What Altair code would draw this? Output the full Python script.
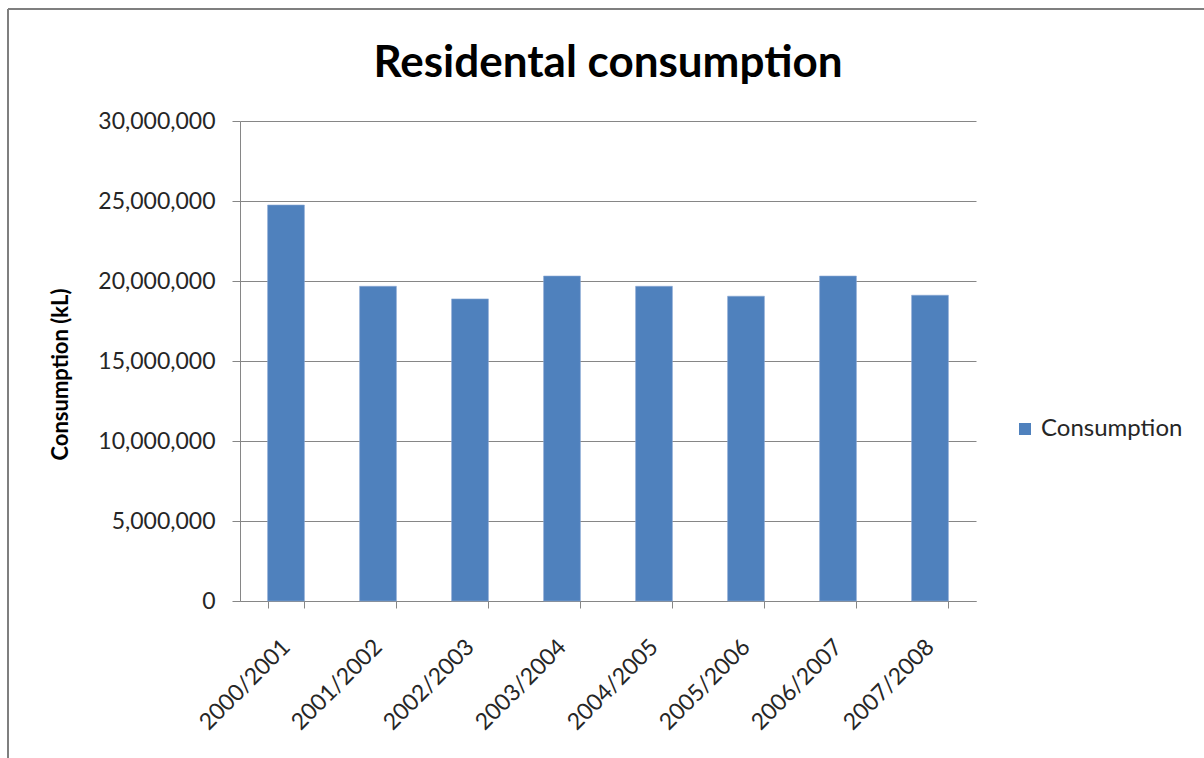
import altair as alt
import pandas as pd

# Residential water consumption per financial year (kL)
years = [
    "2000/2001", "2001/2002", "2002/2003", "2003/2004",
    "2004/2005", "2005/2006", "2006/2007", "2007/2008",
]
consumption = [
    24750000, 19670000, 18880000, 20310000,
    19670000, 19050000, 20310000, 19110000,
]
series = ["Consumption"] * len(years)

df = pd.DataFrame({"Year": years, "Consumption": consumption, "Series": series})

FONT = "Lato"
GRID = "#868686"
TEXT = "#262626"
BLUE = "#4F81BD"

bars = alt.Chart(df).mark_bar(color=BLUE, stroke="#8AA8D4", strokeWidth=0.6).encode(
    x=alt.X(
        "Year:N",
        sort=years,
        title=None,
        scale=alt.Scale(paddingInner=0.6, paddingOuter=0.3),
        axis=alt.Axis(
            labelAngle=-45,
            labelAlign="right",
            labelBaseline="middle",
            labelPadding=35,
            labelFont=FONT,
            labelFontSize=23,
            labelColor=TEXT,
            tickBand="extent",
            tickSize=7,
            tickColor=GRID,
            domainColor=GRID,
            grid=False,
        ),
    ),
    y=alt.Y(
        "Consumption:Q",
        scale=alt.Scale(domain=[0, 30000000], nice=False),
        axis=alt.Axis(
            title="Consumption (kL)",
            values=[0, 5000000, 10000000, 15000000, 20000000, 25000000, 30000000],
            format=",d",
            labelFont=FONT,
            labelFontSize=23,
            labelColor=TEXT,
            labelPadding=17,
            tickSize=8,
            tickColor=GRID,
            domainColor=GRID,
            gridColor=GRID,
            gridWidth=1,
            titleFont=FONT,
            titleFontSize=22,
            titleFontWeight="bold",
            titleColor="#000000",
            titleAngle=-90,
            titleX=-180,
            titleY=253,
            titleAlign="center",
            titleBaseline="middle",
        ),
    ),
    color=alt.Color(
        "Series:N",
        scale=alt.Scale(domain=["Consumption"], range=[BLUE]),
        legend=alt.Legend(
            title=None,
            orient="none",
            legendX=773,
            legendY=296,
            symbolType="square",
            symbolSize=144,
            symbolStrokeWidth=0,
            labelFont=FONT,
            labelFontSize=24,
            labelColor=TEXT,
            labelOffset=4,
        ),
    ),
)

# Outer chart frame: top and left edges
frame = pd.DataFrame({"k": [0]})
left_edge = alt.Chart(frame).mark_rule(color="#7F7F7F", strokeWidth=2).encode(
    x=alt.value(-232), y=alt.value(-112), y2=alt.value(700)
)
top_edge = alt.Chart(frame).mark_rule(color="#7F7F7F", strokeWidth=2).encode(
    x=alt.value(-232), x2=alt.value(1000), y=alt.value(-112)
)

chart = (
    alt.layer(bars, left_edge, top_edge)
    .properties(
        width=736,
        height=480,
        title=alt.TitleParams(
            "Residental consumption",
            font=FONT,
            fontSize=44,
            fontWeight="bold",
            color="#000000",
            anchor="middle",
            offset=28,
            dy=106,
        ),
        autosize=alt.AutoSizeParams(type="none"),
        padding={"left": 240, "top": 121, "right": 228, "bottom": 157},
        background="#FFFFFF",
    )
    .configure_view(stroke=None)
)

chart.save("out.html", embed_options={"renderer": "svg", "actions": False})
